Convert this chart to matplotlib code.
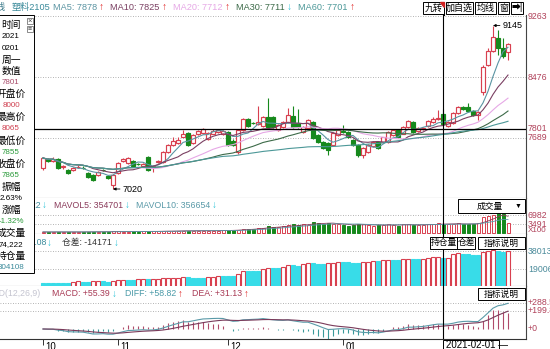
import numpy as np
import pandas as pd
import matplotlib
matplotlib.use("Agg")
import matplotlib.pyplot as plt
import matplotlib.transforms as mtransforms
from matplotlib.patches import Rectangle, Polygon
from matplotlib.lines import Line2D

plt.rcParams['font.family'] = ['Liberation Sans', 'Noto Sans CJK SC', 'DejaVu Sans']

# ---------------- data: PP2105 daily bars ----------------
opens = [7293, 7405, 7380, 7410, 7300, 7265, 7270, 7300, 7295, 7230,
         7200, 7205, 7270, 7185, 7072, 7230, 7380, 7360, 7390, 7345,
         7320, 7436, 7305, 7370, 7371, 7501, 7590, 7620, 7700, 7748,
         7620, 7735, 7745, 7670, 7740, 7765, 7735, 7761, 7650, 7501,
         7787, 7930, 7880, 7865, 7839, 7956, 7950, 7790, 7826, 7890,
         7970, 7880, 7760, 7810, 7891, 7722, 7631, 7618, 7592, 7722,
         7775, 7761, 7657, 7592, 7462, 7501, 7580, 7631, 7630, 7630,
         7722, 7787, 7740, 7826, 7891, 7775, 7800, 7840, 7890, 7930,
         8000, 7839, 7878, 8008, 8086, 8080, 8034, 7985, 8281, 8632,
         8814, 8983, 8853, 8801]
highs = [7440, 7425, 7430, 7420, 7335, 7280, 7310, 7330, 7315, 7240,
         7215, 7255, 7285, 7200, 7215, 7375, 7425, 7440, 7400, 7360,
         7360, 7445, 7335, 7400, 7515, 7605, 7690, 7700, 7790, 7760,
         7740, 7790, 7815, 7765, 7800, 7800, 7790, 7770, 7665, 7800,
         7945, 7945, 7895, 8100, 7970, 8200, 7970, 7860, 7905, 8070,
         8100, 8060, 7845, 7930, 7905, 7735, 7645, 7630, 7760, 7800,
         7850, 7775, 7670, 7605, 7565, 7605, 7645, 7645, 7700, 7775,
         7800, 7800, 7835, 7920, 7905, 7825, 7830, 7915, 7950, 8050,
         8065, 7905, 8020, 8100, 8100, 8140, 8047, 8040, 8632, 8850,
         9145, 9087, 8983, 8920]
lows = [7270, 7370, 7365, 7280, 7285, 7215, 7255, 7290, 7275, 7165,
        7125, 7190, 7250, 7150, 7020, 7220, 7370, 7350, 7310, 7330,
        7310, 7255, 7240, 7360, 7360, 7490, 7580, 7610, 7690, 7580,
        7610, 7725, 7735, 7660, 7730, 7750, 7720, 7580, 7575, 7480,
        7775, 7830, 7860, 7855, 7830, 7815, 7815, 7780, 7815, 7880,
        7815, 7815, 7750, 7800, 7670, 7620, 7540, 7462, 7580, 7710,
        7745, 7685, 7580, 7436, 7423, 7490, 7570, 7540, 7620, 7620,
        7710, 7690, 7730, 7815, 7750, 7765, 7790, 7830, 7880, 7920,
        7855, 7826, 7865, 7995, 8047, 8020, 7970, 7917, 8242, 8620,
        8800, 8762, 8723, 8697]
closes = [7423, 7390, 7410, 7295, 7315, 7230, 7295, 7310, 7290, 7180,
          7140, 7240, 7265, 7160, 7202, 7360, 7410, 7423, 7320, 7340,
          7345, 7267, 7320, 7390, 7501, 7592, 7640, 7660, 7735, 7592,
          7722, 7775, 7800, 7750, 7780, 7785, 7770, 7592, 7590, 7787,
          7930, 7840, 7875, 7890, 7956, 7826, 7830, 7850, 7890, 7980,
          7826, 7826, 7830, 7917, 7683, 7631, 7553, 7527, 7748, 7787,
          7760, 7696, 7592, 7462, 7553, 7592, 7630, 7553, 7690, 7761,
          7787, 7700, 7820, 7904, 7761, 7810, 7815, 7900, 7930, 7945,
          7865, 7891, 8008, 8086, 8060, 8030, 7982, 8020, 8606, 8814,
          8996, 8853, 8749, 8905]
# volume in units of 100
volume = [420, 380, 400, 450, 380, 420, 400, 380, 450, 500,
          520, 480, 450, 520, 650, 600, 550, 580, 620, 560,
          600, 700, 650, 620, 750, 800, 780, 850, 900, 950,
          880, 900, 950, 900, 880, 950, 1000, 1150, 1100, 1250,
          1500, 1700, 1600, 1900, 2100, 2600, 2400, 2300, 2700, 3000,
          3300, 3000, 3500, 3200, 4300, 3900, 3600, 4000, 3400, 3300,
          3100, 2900, 3000, 3600, 3300, 3100, 2800, 3000, 3200, 3400,
          3100, 2900, 3300, 3500, 3200, 3000, 3100, 3400, 3600, 3700,
          3500, 3300, 3600, 3900, 3400, 3300, 3500, 3800, 6200, 6600,
          6900, 7800, 7300, 3900]
open_int = [44000, 43500, 43000, 42800, 42500, 42000, 55000, 62000, 58000, 55000,
            60000, 64000, 60000, 57000, 66000, 72000, 78000, 75000, 73000, 80000,
            84000, 80000, 84000, 87000, 90000, 93000, 96000, 100000, 104000, 101000,
            99000, 97000, 96000, 104000, 110000, 116000, 114000, 113000, 112000, 140000,
            172000, 170000, 168000, 166000, 190000, 200000, 198000, 196000, 215000, 232000,
            228000, 224000, 240000, 252000, 249000, 246000, 243000, 252000, 258000, 264000,
            262000, 260000, 258000, 256000, 262000, 268000, 274000, 270000, 280000, 286000,
            283000, 280000, 292000, 298000, 295000, 293000, 300000, 308000, 314000, 318279,
            304108, 310000, 345000, 355000, 350000, 345000, 340000, 336000, 365000, 378000,
            388000, 380000, 372000, 376000]
oi_before = 44500

ma_periods = [5, 10, 20, 30, 60]
ma_values = [7878, 7825, 7712, 7711, 7701]
ma_dirs = ['↑', '↑', '↑', '↓', '↑']

month_pos = [0, 15, 37, 60]
month_lbl = ['10', '11', '12', '01']
cursor_idx = 80
cursor_date = '2021-02-01'
cursor_price = 7801
hi_idx, hi_val = 90, 9145
lo_idx, lo_val = 14, 7020

price_ticks = [9263, 8476, 7689]
vol_ticks = [6982, 3491]
oi_ticks = [380136, 190068]
oi_tick_lbl = ['38013', '19006']
macd_ticks = [288.5, 199.8, 0]
macd_tick_lbl = ['+288.5', '+199.8', '+0']

info_text = ['时间', '2021', '0201', '周一', '数值', '7801', '开盘价', '8000',
             '最高价', '8065', '最低价', '7855', '收盘价', '7865', '振幅', '2.63%',
             '涨幅', '-1.32%', '成交量', '74,222', '持仓量', '304108']

# ---------------- derived series ----------------
o, h, l, c = (np.array(a, dtype=float) for a in (opens, highs, lows, closes))
vol = np.array(volume, dtype=float)
oi = np.array(open_int, dtype=float)
n = len(c)
x = np.arange(n)
up = c >= o
s = pd.Series(c)
mas = [s.rolling(p, min_periods=1).mean() for p in ma_periods]
mavol5 = pd.Series(vol).rolling(5, min_periods=1).mean()
mavol10 = pd.Series(vol).rolling(10, min_periods=1).mean()
dif = s.ewm(span=12, adjust=False).mean() - s.ewm(span=26, adjust=False).mean()
dea = dif.ewm(span=9, adjust=False).mean()
macd = 2 * (dif - dea)
oi_chg = np.diff(oi, prepend=oi_before)

# ---------------- styles ----------------
RED = '#d8404f'
GREEN = '#16891c'
CYAN = '#38dce8'
ARROW_UP = '#e02828'
ARROW_DN = '#30c4d8'
LBL = '#b0415a'
ma_colors = ['#5a94a2', '#7a3f62', '#e6a8e6', '#3c6a48', '#4c9898']
grid_kw = dict(color='#9a9a9a', lw=0.6, ls=(0, (1, 2)), zorder=1)

W, H = 550, 349
fig = plt.figure(figsize=(W / 100, H / 100), dpi=100)
fig.patch.set_facecolor('white')
renderer = fig.canvas.get_renderer()


def rect(x0, y0, x1, y1):
    return [x0 / W, 1 - y1 / H, (x1 - x0) / W, (y1 - y0) / H]


def ptext(xp, yp, txt, **kw):
    kw.setdefault('va', 'center')
    kw.setdefault('fontsize', 6.3)
    return fig.text(xp / W, 1 - yp / H, txt, **kw)


def seq(xp, yp, pieces, fs=6.3):
    # lay pieces out left to right: (text, colour, gap after)
    for txt, col, gap in pieces:
        arrow = txt in ('↑', '↓')
        t = ptext(xp, yp, txt, color=col, fontsize=fs + (0.6 if arrow else 0),
                  fontweight='bold' if arrow else 'normal')
        xp = t.get_window_extent(renderer).x1 + gap
    return xp


def pbox(x0, y0, x1, y1, **kw):
    kw.setdefault('facecolor', 'white')
    kw.setdefault('edgecolor', 'black')
    kw.setdefault('lw', 0.7)
    r = Rectangle((x0 / W, 1 - y1 / H), (x1 - x0) / W, (y1 - y0) / H,
                  transform=fig.transFigure, **kw)
    fig.add_artist(r)
    return r


X0, X1 = 0, 526
ax_k = fig.add_axes(rect(X0, 15, X1, 198))
ax_v = fig.add_axes(rect(X0, 198, X1, 234))
ax_oi = fig.add_axes(rect(X0, 234, X1, 286))
ax_m = fig.add_axes(rect(X0, 286, X1, 339))
axes = [ax_k, ax_v, ax_oi, ax_m]

ax_k.set_ylim(6903, 9282)
ax_v.set_ylim(-388, 13580)
ax_oi.set_ylim(10560, 559680)
ax_m.set_ylim(-111, 477)

for ax in axes:
    ax.set_xlim((X0 - 43) / 5, (X1 - 43) / 5)
    ax.set_facecolor('white')
    ax.tick_params(left=False, right=False, labelleft=False, bottom=False, labelbottom=False)
    for side in ('left', 'top'):
        ax.spines[side].set_visible(False)
    ax.spines['right'].set_color('#444444')
    ax.spines['bottom'].set_color('#777777')
    ax.spines['right'].set_linewidth(0.8)
    ax.spines['bottom'].set_linewidth(0.8)
    ax.axvline(cursor_idx, color='black', lw=0.8, zorder=6)
fig.add_artist(Line2D([443.5 / W] * 2, [1 - 13 / H, 1 - 15 / H], color='black', lw=0.8))


def right_labels(ax, vals, labels, color):
    tr = mtransforms.blended_transform_factory(ax.transAxes, ax.transData)
    for v, t in zip(vals, labels):
        ax.text(1 + 2 / (X1 - X0), v, t, transform=tr, ha='left', va='center',
                fontsize=6.3, color=color, clip_on=False)


# ---- candles ----
for v in price_ticks:
    ax_k.axhline(v, **grid_kw)
ax_k.axhline(cursor_price, color='black', lw=0.9, zorder=6)
ax_k.vlines(x, l, h, colors=np.where(up, RED, GREEN), lw=0.8, zorder=2)
ax_k.bar(x, np.maximum(np.abs(c - o), 6), bottom=np.minimum(o, c), width=0.62,
         color=np.where(up, 'white', GREEN), edgecolor=np.where(up, RED, GREEN),
         lw=0.85, zorder=3)
for ma, col in zip(mas, ma_colors):
    ax_k.plot(x, ma, color=col, lw=0.8, zorder=4)
for idx, val in ((hi_idx, hi_val), (lo_idx, lo_val)):
    ax_k.annotate(str(val), xy=(idx, val), xytext=(7, 0), textcoords='offset points',
                  va='center', fontsize=6.5,
                  arrowprops=dict(arrowstyle='-|>', color='black', lw=0.6,
                                  mutation_scale=4, shrinkA=0, shrinkB=0))
right_labels(ax_k, price_ticks + [cursor_price], [str(v) for v in price_ticks + [cursor_price]], LBL)

# ---- volume ----
for v in vol_ticks:
    ax_v.axhline(v, **grid_kw)
ax_v.bar(x, vol, width=0.6, color=np.where(up, 'white', GREEN),
         edgecolor=np.where(up, RED, GREEN), lw=0.7, zorder=3)
ax_v.plot(x, mavol5, color='#8a3a5a', lw=0.6, zorder=4)
ax_v.plot(x, mavol10, color='#5a9aa8', lw=0.6, zorder=4)
right_labels(ax_v, vol_ticks, [str(v) for v in vol_ticks], LBL)
ptext(528, 230.5, 'X100', color=LBL, fontsize=5.8)

# ---- open interest ----
for v in oi_ticks:
    ax_oi.axhline(v, **grid_kw)
dec = oi_chg < 0
ax_oi.bar(x, oi, width=0.74, color=np.where(dec, CYAN, 'white'),
          edgecolor=np.where(dec, CYAN, RED), lw=0.8, zorder=3)
right_labels(ax_oi, oi_ticks, oi_tick_lbl, '#4a8a9a')

# ---- MACD ----
for v in macd_ticks[:2]:
    ax_m.axhline(v, **grid_kw)
ax_m.vlines(x, 0, macd, colors=np.where(macd >= 0, '#b04a6a', '#3a9a9a'), lw=0.8, zorder=3)
ax_m.plot(x, dif, color='#5a9aa8', lw=0.8, zorder=4)
ax_m.plot(x, dea, color='#7a3a5a', lw=0.8, zorder=4)
right_labels(ax_m, macd_ticks, macd_tick_lbl, LBL)
ax_m.spines['bottom'].set_color('#333333')
ax_m.set_xticks(month_pos)
ax_m.set_xticklabels(month_lbl, ha='left', fontsize=7)
ax_m.tick_params(bottom=True, labelbottom=True, length=4, width=0.7, pad=-1.5, color='#333333')
for lbl in ax_m.get_xticklabels():
    lbl.set_transform(lbl.get_transform() + mtransforms.ScaledTranslation(2 / 72, 0, fig.dpi_scale_trans))

# ---- title bar ----
ptext(5, 7.5, '线', color='#3a7a8a', ha='right', fontsize=6.6)
title_pieces = [('塑料2105', '#3a8a9a', 2)]
for p, v, d, col in zip(ma_periods, ma_values, ma_dirs, ma_colors):
    title_pieces += [(f'MA{p}: {v}', col, 1.5), (d, ARROW_UP if d == '↑' else ARROW_DN, 7)]
seq(12, 7.5, title_pieces, fs=6.6)

buttons = [('九转', 423, 444), ('加自选', 446, 473), ('均线', 475, 496),
           ('窗', 498, 509), ('➡|', 511, 523)]
for t, bx0, bx1 in buttons:
    pbox(bx0, 2, bx1, 13.5, zorder=7)
    ptext((bx0 + bx1) / 2, 8, t, ha='center', fontsize=6.5, zorder=8)
fig.add_artist(Polygon([[439.5 / W, 1 - 2 / H], [444 / W, 1 - 2 / H], [444 / W, 1 - 6.5 / H]],
                       closed=True, transform=fig.transFigure, color='#d02020', zorder=9))

# ---- panel headers ----
ptext(41, 205, 'VOL: 74222', color='#3a8a9a', ha='right')
seq(42, 205, [('↓', ARROW_DN, 7), ('MAVOL5: 354701', '#8a3a5a', 1.5), ('↓', ARROW_DN, 7),
              ('MAVOL10: 356654', '#5a9aa8', 1.5), ('↓', ARROW_DN, 0)])

ptext(46, 243, '持仓量: 304108', color='#3a8a9a', ha='right')
seq(47, 243, [('↓', ARROW_DN, 10), ('仓差: -14171', '#333333', 2), ('↓', ARROW_DN, 0)])

ptext(40, 294, 'MACD(12,26,9)', color='#c4c4d0', ha='right')
seq(52, 294, [('MACD: +55.39', '#a83a55', 1.5), ('↓', ARROW_DN, 9),
              ('DIFF: +58.82', '#4a9aa8', 1.5), ('↑', ARROW_UP, 9),
              ('DEA: +31.13', '#a83a55', 1.5), ('↑', ARROW_UP, 0)])

# ---- in-panel buttons ----
pbox(458, 199, 525, 213, zorder=7)
ptext(490, 206, '成交量', ha='center', zorder=8)
ptext(518, 206, '▼', ha='center', fontsize=5, zorder=8)
for t, bx0, bx1 in [('持仓量', 430, 457), ('仓差', 457, 475), ('指标说明', 478, 525)]:
    pbox(bx0, 237, bx1, 249, zorder=7)
    ptext((bx0 + bx1) / 2, 243, t, ha='center', zorder=8)
pbox(478, 288, 525, 300, zorder=7)
ptext(501.5, 294, '指标说明', ha='center', zorder=8)

# cursor date box
pbox(443, 340, 499, 350, zorder=7)
ptext(446, 345.5, cursor_date + ' —', fontsize=7, zorder=8)

# ---- info panel ----
pbox(-2, 15, 34, 273, zorder=9)
info_colors = ['black', 'black', 'black', 'black', 'black', '#a84a6a', 'black', '#d04050',
               'black', '#d04050', 'black', '#2a9a3a', 'black', '#2a9a3a', 'black', 'black',
               'black', '#2a9a3a', 'black', 'black', 'black', '#3a8a9a']
for k, (t, col) in enumerate(zip(info_text, info_colors)):
    cjk = not any(ch.isdigit() for ch in t)
    ptext(11, 25 + 11.55 * k, t, ha='center', color=col,
          fontsize=7.0 if cjk else 5.8, zorder=10)
pbox(27, 18, 33, 24, zorder=10, edgecolor='#777777', lw=0.6)
ptext(30, 21, '×', ha='center', fontsize=5.5, zorder=11, color='#444444')
pbox(27, 26, 33, 32, zorder=10, edgecolor='#777777', lw=0.6)
ptext(30, 29, '≡', ha='center', fontsize=5, zorder=11, color='#444444')

fig.savefig('out.png', dpi=100)
